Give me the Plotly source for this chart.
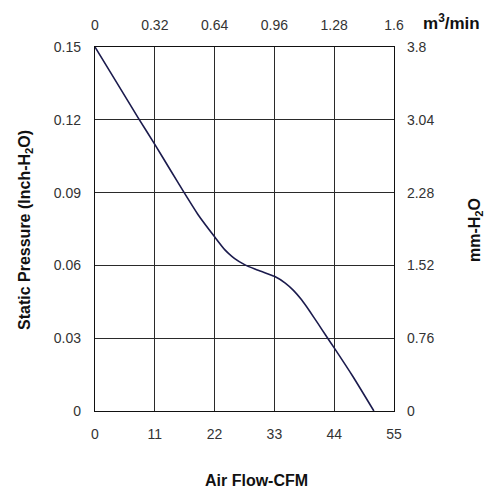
import plotly.graph_objects as go

# fan curve: air flow (CFM) vs static pressure (inch H2O)
cfm = [0, 4, 8, 11, 14, 16.4, 19, 22, 23.9, 25.7, 27.6, 29.4, 31.0, 33.0,
       35.0, 36.5, 38.0, 39.5, 41.0, 42.5, 44, 47.5, 51.3]
pressure = [0.150, 0.1353, 0.1206, 0.1099, 0.0988, 0.0900, 0.0808, 0.0718,
            0.0664, 0.0628, 0.0602, 0.0585, 0.0572, 0.0555, 0.0527, 0.0497,
            0.0458, 0.0411, 0.0361, 0.0310, 0.0260, 0.0140, 0.0]

cfm_ticks = [0, 11, 22, 33, 44, 55]
inch_ticks = [0, 0.03, 0.06, 0.09, 0.12, 0.15]
m3_ticks = ["0", "0.32", "0.64", "0.96", "1.28", "1.6"]
mm_ticks = ["0", "0.76", "1.52", "2.28", "3.04", "3.8"]

font = "Liberation Sans, Arial, sans-serif"
line_col = "#1b1b4d"
grid_col = "#2a2a2a"

# the page body adds 8px around the figure, so the margins allow for it
OFF = 8
W = H = 500
L, R, T, B = 95 - OFF, 114, 47 - OFF, 97

fig = go.Figure()
fig.add_trace(go.Scatter(x=cfm, y=pressure, mode="lines",
                         line=dict(color=line_col, width=1.6, shape="spline", smoothing=0.5),
                         showlegend=False, hoverinfo="skip"))
# invisible trace so the top/right axes get drawn
fig.add_trace(go.Scatter(x=[None], y=[None], xaxis="x2", yaxis="y2", showlegend=False))

axis_common = dict(showline=True, linecolor="#111", linewidth=1.3, ticks="",
                   tickfont=dict(family=font, size=14, color="#333"),
                   zeroline=False, automargin=False)

fig.update_layout(
    width=W, height=H,
    margin=dict(l=L, r=R, t=T, b=B),
    paper_bgcolor="white", plot_bgcolor="white",
    xaxis=dict(range=[0, 55], tickmode="array", tickvals=cfm_ticks,
               showgrid=True, gridcolor=grid_col, gridwidth=1.1, mirror=True,
               ticklabelstandoff=10, **axis_common),
    yaxis=dict(range=[0, 0.15], tickmode="array", tickvals=inch_ticks,
               ticktext=[f"{v:g}" for v in inch_ticks],
               showgrid=True, gridcolor=grid_col, gridwidth=1.1, mirror=True,
               ticklabelstandoff=10, **axis_common),
    xaxis2=dict(range=[0, 55], overlaying="x", side="top", anchor="y",
                tickmode="array", tickvals=cfm_ticks, ticktext=m3_ticks,
                showgrid=False, ticklabelstandoff=10, **axis_common),
    yaxis2=dict(range=[0, 0.15], overlaying="y", side="right", anchor="x",
                tickmode="array", tickvals=inch_ticks, ticktext=mm_ticks,
                showgrid=False, ticklabelstandoff=9, **axis_common),
)

title_font = dict(family=font, size=16, color="#111")
# annotation positions given in screen pixels (from top-left), converted below
labels = [
    ("<b>Static Pressure (Inch-H<sub>2</sub>O)</b>", 25, 230, -90, title_font),
    ("<b>mm-H<sub>2</sub>O</b>", 475, 230, -90, title_font),
    ("<b>Air Flow-CFM</b>", 256, 480, 0, title_font),
    ("<b>m<sup>3</sup>/min</b>", 451, 22, 0, dict(family=font, size=17, color="#111")),
]
pw, ph = W - L - R, H - T - B
for text, px_x, px_y, ang, f in labels:
    fx, fy = px_x - OFF, px_y - OFF
    fig.add_annotation(text=text, textangle=ang, showarrow=False, font=f,
                       xref="paper", yref="paper", xanchor="center", yanchor="middle",
                       x=(fx - L) / pw, y=(H - fy - B) / ph)

fig.write_html("out.html")
